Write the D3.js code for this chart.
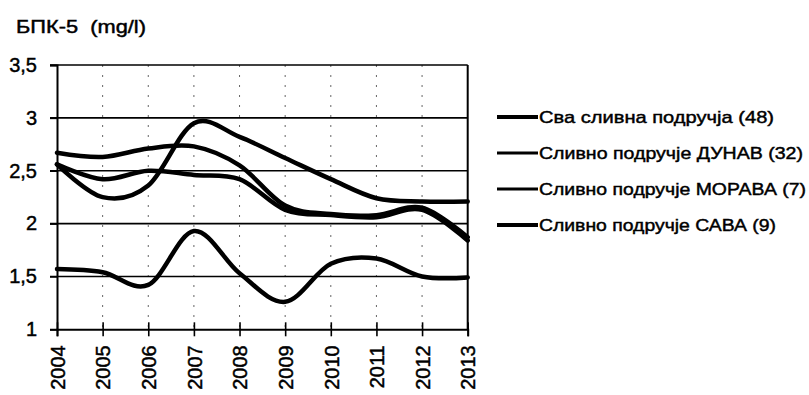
<!DOCTYPE html>
<html><head><meta charset="utf-8">
<script src="https://cdnjs.cloudflare.com/ajax/libs/d3/7.8.5/d3.min.js"></script>
<style>
html,body{margin:0;padding:0;background:#fff;}
text{font-family:"Liberation Sans",Arial,sans-serif;fill:#000;stroke:#000;stroke-width:0.45px;}
</style></head>
<body><svg id="c" width="809" height="395"></svg>
<script>
const years = [2004,2005,2006,2007,2008,2009,2010,2011,2012,2013];
const yTicks = [1,1.5,2,2.5,3,3.5];
const yTickLabels = ["1","1,5","2","2,5","3","3,5"];
const seriesNames = ["Сва сливна подручја (48)","Сливно подручје ДУНАВ (32)","Сливно подручје МОРАВА (7)","Сливно подручје САВА (9)"];
const allBasins = [2.67,2.63,2.71,2.73,2.55,2.17,2.09,2.08,2.15,1.87];
const dunav     = [2.56,2.42,2.50,2.46,2.42,2.13,2.08,2.06,2.13,1.84];
const morava    = [2.56,2.25,2.36,2.95,2.82,2.62,2.42,2.24,2.21,2.21];
const sava      = [1.57,1.54,1.42,1.93,1.53,1.26,1.62,1.67,1.50,1.49];
const seriesValues = [allBasins,dunav,morava,sava];
const title = "БПК-5  (mg/l)";

const svg = d3.select("#c");
const x = d3.scaleLinear().domain([2004,2013]).range([57,467.7]);
const y = d3.scaleLinear().domain([1,3.5]).range([329.3,65]);

// vertical dotted gridlines
svg.append("g").selectAll("line").data(years.slice(1,-1)).join("line")
  .attr("x1",d=>x(d)).attr("x2",d=>x(d)).attr("y1",y(3.5)).attr("y2",y(1))
  .attr("stroke","#000").attr("stroke-width",1).attr("stroke-dasharray","2,8").attr("opacity",0.6);

// horizontal gridlines
svg.append("g").selectAll("line").data(yTicks.slice(1)).join("line")
  .attr("x1",50).attr("x2",x(2013)).attr("y1",d=>y(d)).attr("y2",d=>y(d))
  .attr("stroke","#000").attr("stroke-width",1.6);

// y axis
const ya = svg.append("g").attr("transform",`translate(${x(2004)},0)`)
  .call(d3.axisLeft(y).tickValues(yTicks).tickFormat((d,i)=>yTickLabels[i]).tickSize(7).tickPadding(13));
ya.select(".domain").attr("stroke-width",2);
ya.selectAll(".tick line").attr("stroke-width",1.6);
ya.selectAll(".tick text").style("font-size","20px");

// right border
svg.append("line").attr("x1",x(2013)).attr("x2",x(2013)).attr("y1",y(3.5)).attr("y2",y(1))
  .attr("stroke","#000").attr("stroke-width",2);

// x axis
const xa = svg.append("g").attr("transform",`translate(0,${y(1)})`)
  .call(d3.axisBottom(x).tickValues(years).tickFormat(d3.format("d")).tickSize(7));
xa.select(".domain").attr("stroke-width",2);
xa.selectAll(".tick line").attr("y1",-7).attr("stroke-width",1.6);
xa.selectAll(".tick text").style("font-size","20px")
  .attr("transform","rotate(-90)").attr("text-anchor","end")
  .attr("x",-16).attr("y",0).attr("dy","0.36em");

// lines
const line = d3.line().x((d,i)=>x(years[i])).y(d=>y(d)).curve(d3.curveCatmullRom.alpha(0));
svg.append("g").selectAll("path").data(seriesValues).join("path")
  .attr("d",d=>line(d)).attr("fill","none").attr("stroke","#000")
  .attr("stroke-width",4.5).attr("stroke-linejoin","round").attr("stroke-linecap","round");

// title
svg.append("text").attr("x",16).attr("y",33).style("font-size","18px").style("white-space","pre")
  .attr("textLength",130).attr("lengthAdjust","spacingAndGlyphs").text(title);

// legend
const legY = [117,153,189,225];
const legW = [235,264,267,237];
const lg = svg.append("g").selectAll("g").data(seriesNames).join("g")
  .attr("transform",(d,i)=>`translate(497,${legY[i]})`);
lg.append("line").attr("x1",0).attr("x2",41).attr("y1",0).attr("y2",0)
  .attr("stroke","#000").attr("stroke-width",(d,i)=>i===0||i===3?4:3);
lg.append("text").attr("x",42).attr("y",0).attr("dy","0.36em").style("font-size","17px")
  .attr("textLength",(d,i)=>legW[i]).attr("lengthAdjust","spacingAndGlyphs").text(d=>d);
</script></body></html>
